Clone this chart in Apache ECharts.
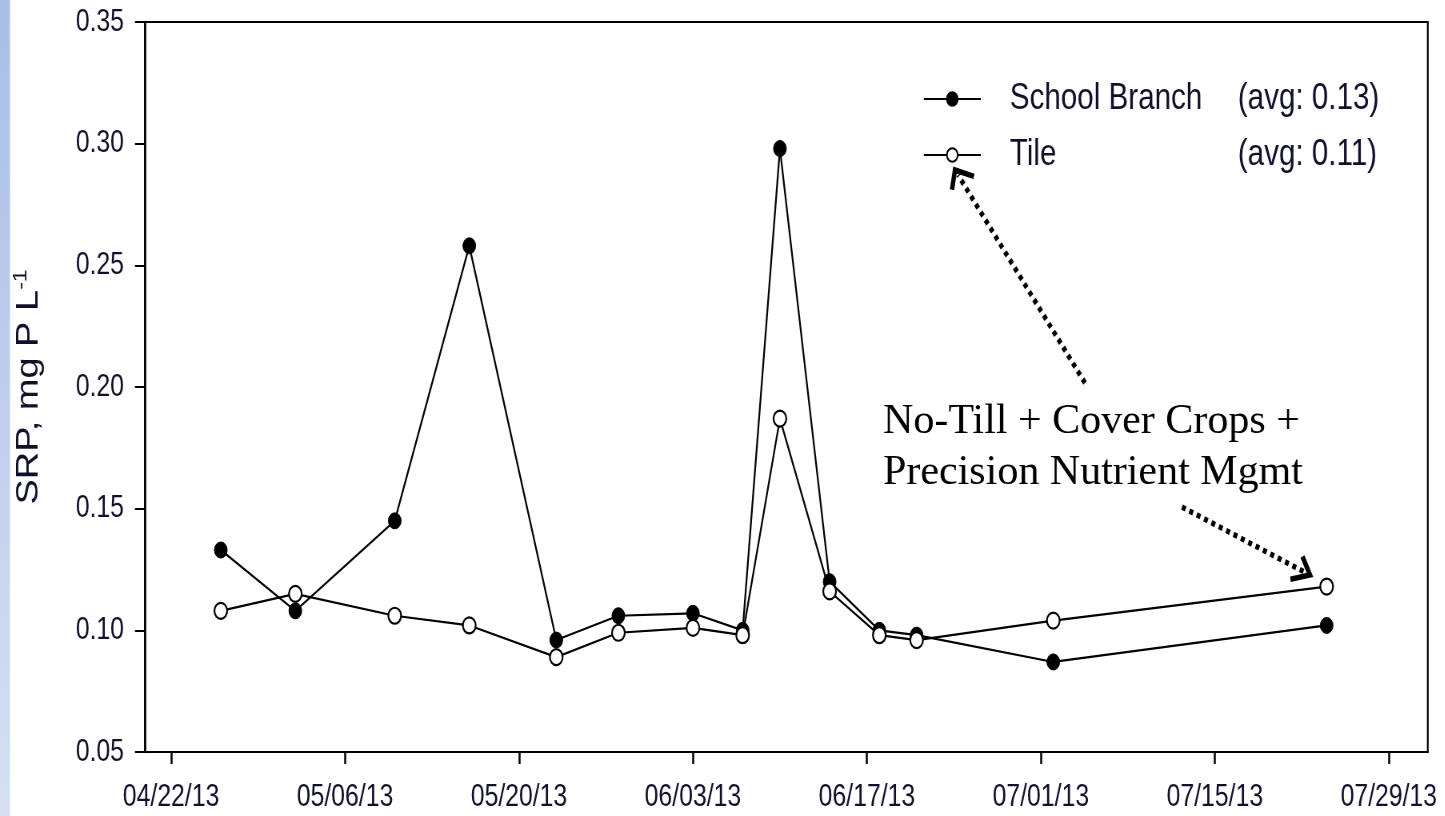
<!DOCTYPE html>
<html>
<head>
<meta charset="utf-8">
<script src="https://cdn.jsdelivr.net/npm/echarts@6/dist/echarts.min.js"></script>
<style>
  html, body { margin: 0; padding: 0; background: #fff; overflow: hidden; width: 1445px; height: 816px; }
  #wrap { width: 1445px; height: 816px; overflow: hidden; position: relative; }
  /* the reference image is horizontally squeezed: draw wide, then compress */
  #chart { width: 1806px; height: 816px; transform: scaleX(0.8); transform-origin: 0 0; position: absolute; left: 0; top: 0; }
</style>
</head>
<body>
<div id="wrap"><div id="chart"></div></div>
<script>
// ---- data ----
const sampleDates = ['2013-04-26', '2013-05-02', '2013-05-10', '2013-05-16', '2013-05-23', '2013-05-28', '2013-06-03',
                     '2013-06-07', '2013-06-10', '2013-06-14', '2013-06-18', '2013-06-21', '2013-07-02', '2013-07-24'];
const schoolBranch = [0.133, 0.108, 0.145, 0.258, 0.096, 0.106, 0.107, 0.100, 0.298, 0.120, 0.100, 0.098, 0.087, 0.102];
const tile         = [0.108, 0.115, 0.106, 0.102, 0.089, 0.099, 0.101, 0.098, 0.187, 0.116, 0.098, 0.096, 0.104, 0.118];
const seriesNames  = ['School Branch', 'Tile'];
const tickDates    = ['2013-04-22', '2013-05-06', '2013-05-20', '2013-06-03', '2013-06-17', '2013-07-01', '2013-07-15', '2013-07-29'];
const yAxisTitle   = 'SRP, mg P L';
const yAxisTitleSup = '-1';
const annotationLines = ['No-Till + Cover Crops +', 'Precision Nutrient Mgmt'];

// ---- helpers ----
const SX = 0.8;                       // horizontal squeeze of the whole picture
const px = (screenX) => screenX / SX; // screen x -> chart-space x
const DAY = 86400000;
function utc(s) { const p = s.split('-').map(Number); return Date.UTC(p[0], p[1] - 1, p[2]); }
const BASE = utc(tickDates[0]);
function dayOf(s) { return (utc(s) - BASE) / DAY; }
function fmtDay(v) {
  const d = new Date(BASE + Math.round(v) * DAY);
  const mm = String(d.getUTCMonth() + 1).padStart(2, '0');
  const dd = String(d.getUTCDate()).padStart(2, '0');
  const yy = String(d.getUTCFullYear() % 100).padStart(2, '0');
  return mm + '/' + dd + '/' + yy;
}
function mean(a) { return a.reduce((s, v) => s + v, 0) / a.length; }
const avgs = { 'School Branch': mean(schoolBranch).toFixed(2), 'Tile': mean(tile).toFixed(2) };

// arrow given in screen coordinates, converted to chart space
function arrow(tail, tip) {
  const dx = tip[0] - tail[0], dy = tip[1] - tail[1];
  const L = Math.hypot(dx, dy);
  const ux = dx / L, uy = dy / L;
  const bx = -ux, by = -uy;
  const ang = 40 * Math.PI / 180, len = 20;
  const rot = (a) => [bx * Math.cos(a) - by * Math.sin(a), bx * Math.sin(a) + by * Math.cos(a)];
  const r1 = rot(ang), r2 = rot(-ang);
  const c = (p) => [px(p[0]), p[1]];
  const a1 = c([tip[0] + r1[0] * len, tip[1] + r1[1] * len]);
  const a2 = c([tip[0] + r2[0] * len, tip[1] + r2[1] * len]);
  const t0 = c(tail), t1 = c([tip[0] - ux * 6, tip[1] - uy * 6]);
  return [
    { type: 'line', z: 100, silent: true,
      shape: { x1: t0[0], y1: t0[1], x2: t1[0], y2: t1[1] },
      style: { stroke: '#000', lineWidth: 5.5, lineDash: [5, 5] } },
    { type: 'polyline', z: 100, silent: true,
      shape: { points: [a1, c(tip), a2] },
      style: { stroke: '#000', lineWidth: 5.5, fill: null, lineJoin: 'miter' } }
  ];
}

const SANS = '"Liberation Sans", Arial, sans-serif';
const textColor = '#10102a';
const tickDays = tickDates.map(dayOf);
const chart = echarts.init(document.getElementById('chart'), null, { renderer: 'canvas', width: 1806, height: 816 });

const option = {
  animation: false,
  backgroundColor: '#fff',
  textStyle: { fontFamily: SANS },
  grid: { left: px(145), right: px(17), top: 22, bottom: 64, show: true, borderColor: '#000', borderWidth: 2.2, backgroundColor: 'transparent' },
  legend: {
    orient: 'vertical',
    left: px(923) - 5,
    top: 74,
    itemWidth: px(57),
    itemHeight: 17,
    itemGap: 16,
    data: seriesNames,
    formatter: (name) => '{n|' + name + '}{a|(avg: ' + avgs[name] + ')}',
    textStyle: {
      color: textColor,
      fontFamily: SANS,
      fontSize: 37,
      lineHeight: 40,
      rich: {
        n: { width: px(228), padding: [0, 0, 0, px(1009) - (px(923) + px(57)) - 5], fontSize: 37, fontFamily: SANS, color: textColor, lineHeight: 40 },
        a: { fontSize: 37, fontFamily: SANS, color: textColor, lineHeight: 40 }
      }
    }
  },
  xAxis: {
    type: 'value',
    min: tickDays[0] - 2.1,
    max: tickDays[tickDays.length - 1] + 3.14,
    splitLine: { show: false },
    axisLine: { show: true, onZero: false, lineStyle: { color: '#000', width: 2 } },
    axisTick: { show: true, length: 12, lineStyle: { color: '#000', width: 2.5 }, customValues: tickDays },
    axisLabel: {
      customValues: tickDays,
      formatter: (v) => fmtDay(v),
      margin: 30,
      color: textColor,
      fontFamily: SANS,
      fontSize: 31
    }
  },
  yAxis: {
    type: 'value',
    min: 0.05,
    max: 0.35,
    interval: 0.05,
    splitLine: { show: false },
    axisLine: { show: true, onZero: false, lineStyle: { color: '#000', width: 2.5 } },
    axisTick: { show: true, length: px(10), lineStyle: { color: '#000', width: 2 } },
    axisLabel: {
      formatter: (v) => v.toFixed(2),
      margin: px(21),
      color: textColor,
      fontFamily: SANS,
      fontSize: 31
    },
    name: '{m|' + yAxisTitle + '}{s|' + yAxisTitleSup + '}',
    nameLocation: 'middle',
    nameRotate: 90,
    nameGap: 124,
    nameTextStyle: {
      color: textColor,
      fontFamily: SANS,
      fontSize: 38,
      rich: {
        m: { fontFamily: SANS, fontSize: 38, color: textColor, lineHeight: 42 },
        s: { fontFamily: SANS, fontSize: 23, color: textColor, verticalAlign: 'top', lineHeight: 42 }
      }
    }
  },
  series: [
    {
      name: seriesNames[0],
      type: 'line',
      data: sampleDates.map((d, i) => [dayOf(d), schoolBranch[i]]),
      symbol: 'circle',
      symbolSize: 16,
      showAllSymbol: true,
      lineStyle: { color: '#000', width: 2.2 },
      itemStyle: { color: '#000', borderColor: '#000', borderWidth: 1 },
      emphasis: { disabled: true }
    },
    {
      name: seriesNames[1],
      type: 'line',
      data: sampleDates.map((d, i) => [dayOf(d), tile[i]]),
      symbol: 'circle',
      symbolSize: 16,
      showAllSymbol: true,
      lineStyle: { color: '#000', width: 2.2 },
      itemStyle: { color: '#fff', borderColor: '#000', borderWidth: 2.2 },
      emphasis: { disabled: true }
    }
  ],
  graphic: [
    { type: 'rect', z: 0, silent: true, shape: { x: 0, y: 0, width: px(10), height: 816 },
      style: { fill: { type: 'linear', x: 0, y: 0, x2: 0, y2: 1,
        colorStops: [{ offset: 0, color: '#a8bfe7' }, { offset: 1, color: '#d6e0f3' }] } } },
    { type: 'text', z: 100, silent: true, x: px(883), y: 396, scaleX: 1 / SX, scaleY: 1,
      style: { text: annotationLines.join('\n'), fontFamily: '"Liberation Serif", "Times New Roman", serif', fontSize: 42, lineHeight: 51,
               fill: '#000', verticalAlign: 'top', align: 'left' } }
  ].concat(arrow([1085, 383], [955, 170])).concat(arrow([1182, 507], [1310, 575]))
};

chart.setOption(option);
</script>
</body>
</html>
